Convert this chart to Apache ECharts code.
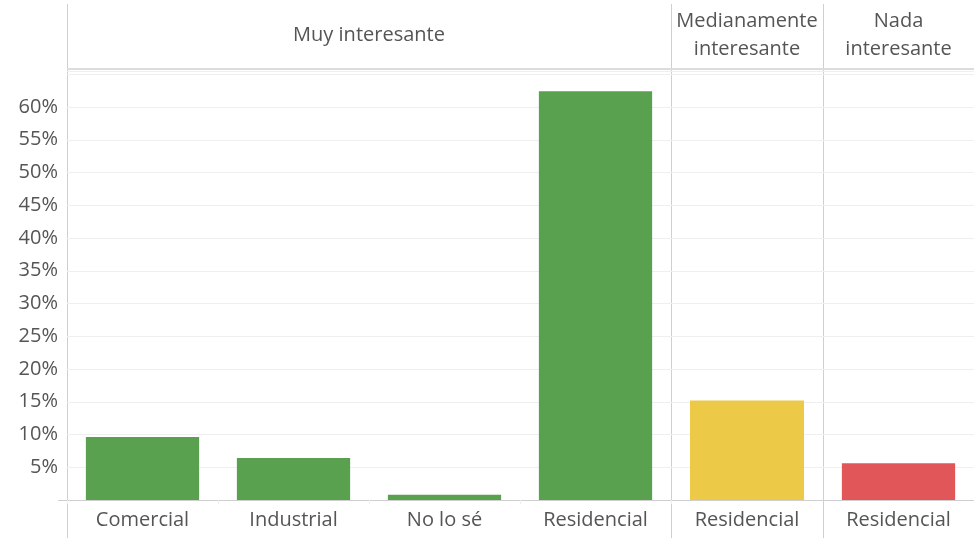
<!DOCTYPE html>
<html>
<head>
<meta charset="utf-8">
<script src="https://cdn.jsdelivr.net/npm/echarts@6/dist/echarts.min.js"></script>
<style>
  html, body { margin: 0; padding: 0; background: #fff; }
  #chart { width: 974px; height: 538px; }
</style>
</head>
<body>
<div id="chart"></div>
<script>
// Interest level groups and their answers (share of respondents, %)
const groupLabels = ['Muy interesante', 'Medianamente\ninteresante', 'Nada\ninteresante'];
const muyCategories = ['Comercial', 'Industrial', 'No lo sé', 'Residencial'];
const muyValues = [9.6, 6.4, 0.8, 62.4];
const medianamenteCategories = ['Residencial'];
const medianamenteValues = [15.2];
const nadaCategories = ['Residencial'];
const nadaValues = [5.6];
const groupColors = ['#59a14f', '#edc948', '#e15759'];

const Y_MAX = 65.5;
const Y_STEP = 5;
const FONT = '"Open Sans", "Noto Sans", sans-serif';
const LABEL_COLOR = '#555';
const RULE_COLOR = '#cfcfcf';

// panel edges in pixels
const panelX = [67, 671, 823, 974];
const plotTop = 71;
const plotBottom = 38;

const chart = echarts.init(document.getElementById('chart'));

const grids = [0, 1, 2].map(i => ({
  left: panelX[i],
  width: panelX[i + 1] - panelX[i],
  top: plotTop,
  bottom: plotBottom,
  containLabel: false
}));

const catSets = [muyCategories, medianamenteCategories, nadaCategories];
const valSets = [muyValues, medianamenteValues, nadaValues];

const xAxes = catSets.map((cats, i) => ({
  type: 'category',
  gridIndex: i,
  data: cats,
  axisLine: { show: true, lineStyle: { color: RULE_COLOR, width: 1 } },
  axisTick: { show: i === 0, alignWithLabel: false, length: 4, lineStyle: { color: '#eee' } },
  axisLabel: { color: LABEL_COLOR, fontSize: 20, fontFamily: FONT, margin: 10, interval: 0 }
}));

const yAxes = [0, 1, 2].map(i => ({
  type: 'value',
  gridIndex: i,
  min: 0,
  max: Y_MAX,
  interval: Y_STEP,
  axisLine: { show: false },
  axisTick: { show: false },
  splitLine: { show: true, lineStyle: { color: '#efefef', width: 1 } },
  axisLabel: {
    show: i === 0,
    color: LABEL_COLOR,
    fontSize: 20,
    fontFamily: FONT,
    margin: 9,
    formatter: v => (v <= 0 || v > 60) ? '' : v + '%'
  }
}));

const series = valSets.map((vals, i) => ({
  type: 'bar',
  xAxisIndex: i,
  yAxisIndex: i,
  data: vals,
  barWidth: '75%',
  itemStyle: { color: groupColors[i] },
  silent: true
}));

// group header text, panel dividers and header rule
const graphics = [];
groupLabels.forEach((label, i) => {
  const cx = (panelX[i] + panelX[i + 1]) / 2;
  graphics.push({
    type: 'text',
    x: cx,
    y: 35,
    style: {
      text: label,
      fill: LABEL_COLOR,
      font: '20px ' + FONT,
      align: 'center',
      verticalAlign: 'middle',
      lineHeight: 28
    }
  });
});
[panelX[0], panelX[1], panelX[2]].forEach(x => {
  graphics.push({
    type: 'line',
    shape: { x1: x + 0.5, y1: 4, x2: x + 0.5, y2: 538 },
    style: { stroke: RULE_COLOR, lineWidth: 1 }
  });
});
graphics.push({
  type: 'line',
  shape: { x1: panelX[0], y1: 69, x2: 974, y2: 69 },
  style: { stroke: '#dcdcdc', lineWidth: 2 }
});
graphics.push({
  type: 'line',
  shape: { x1: 58, y1: 500.5, x2: panelX[0], y2: 500.5 },
  style: { stroke: RULE_COLOR, lineWidth: 1 }
});

chart.setOption({
  animation: false,
  backgroundColor: '#fff',
  grid: grids,
  xAxis: xAxes,
  yAxis: yAxes,
  series: series,
  graphic: graphics
});
</script>
</body>
</html>
